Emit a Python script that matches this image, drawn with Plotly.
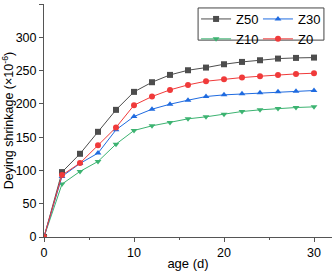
import plotly.graph_objects as go

age = [0, 2, 4, 6, 8, 10, 12, 14, 16, 18, 20, 22, 24, 26, 28, 30]
z50 = [0, 97.5, 125, 158, 191, 218, 232.5, 243.5, 250.5, 254.5, 259.5, 263, 265.5, 268, 269, 269.5]
z0 = [0, 93, 111, 138, 164.5, 198, 211, 221, 228.5, 234, 237, 239.5, 241.5, 243.5, 245, 246]
z30 = [0, 91, 110.5, 126, 161, 181, 192, 199.5, 205.5, 211, 213.5, 215, 216.5, 218, 219, 220]
z10 = [0, 79.5, 98.5, 113.5, 139.5, 160, 167, 172, 177.5, 180.5, 184.5, 188.5, 191, 193, 194.5, 195.5]

series = [
    ("Z50", z50, "#4d4d4d", "square", "legend"),
    ("Z10", z10, "#3cb371", "triangle-down", "legend"),
    ("Z30", z30, "#1f6be0", "triangle-up", "legend2"),
    ("Z0", z0, "#f03a3a", "circle", "legend2"),
]

fig = go.Figure()
for name, vals, col, sym, lg in series:
    fig.add_trace(go.Scatter(
        x=age, y=vals, name=name, mode="lines+markers",
        line=dict(color=col, width=1),
        marker=dict(symbol=sym, size=6, color=col),
        legend=lg,
    ))

font = "Liberation Sans, Arial, sans-serif"
fig.update_layout(
    width=334, height=271,
    margin=dict(l=44, r=2, t=4, b=34, autoexpand=False),
    paper_bgcolor="white", plot_bgcolor="white",
    font=dict(family=font, size=12.5, color="black"),
    showlegend=True,
    legend=dict(x=0.528, y=1.0, xanchor="left", yanchor="top",
                bgcolor="rgba(0,0,0,0)", font=dict(size=13),
                tracegroupgap=0, itemwidth=30),
    legend2=dict(x=0.743, y=1.0, xanchor="left", yanchor="top",
                 bgcolor="rgba(0,0,0,0)", font=dict(size=13),
                 tracegroupgap=0, itemwidth=30),
    shapes=[dict(type="rect", xref="paper", yref="paper",
                 x0=0.535, x1=0.972, y0=0.845, y1=0.983,
                 line=dict(color="#444", width=1), fillcolor="rgba(0,0,0,0)")],
)
fig.update_xaxes(
    range=[0, 32], tickvals=[0, 10, 20, 30], showgrid=False, zeroline=False,
    showline=True, linecolor="#555", linewidth=1, automargin=False,
    ticks="outside", ticklen=4, tickcolor="#555",
    minor=dict(tickvals=[5, 15, 25], ticks="outside", ticklen=2, tickcolor="#555"),
    title=dict(text="age (d)", font=dict(size=13), standoff=2),
)
fig.update_yaxes(
    range=[0, 350], tickvals=[0, 50, 100, 150, 200, 250, 300, 350],
    showgrid=False, zeroline=False, automargin=False,
    showline=True, linecolor="#555", linewidth=1,
    ticks="outside", ticklen=4, tickcolor="#555",
    title=dict(text="Deying shrinkage (×10<sup>-6</sup>)", font=dict(size=12.5), standoff=6),
)
fig.write_html("out.html", config={"displayModeBar": False},
               post_script="document.body.style.margin='0';")
